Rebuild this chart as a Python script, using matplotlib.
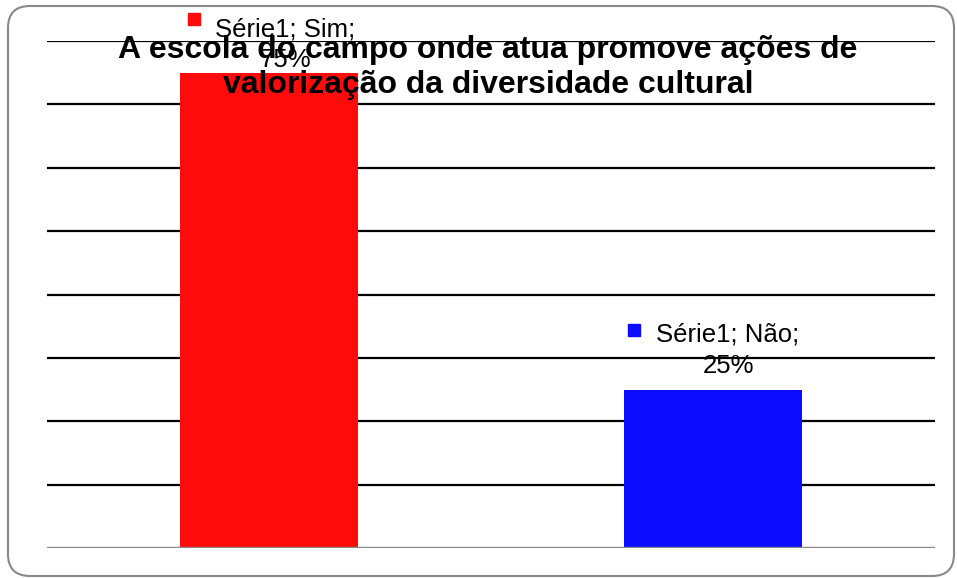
import matplotlib
matplotlib.use("Agg")
import matplotlib.pyplot as plt
from matplotlib.patches import FancyBboxPatch
from matplotlib.transforms import IdentityTransform, offset_copy

plt.rcParams['font.family'] = ['Liberation Sans', 'DejaVu Sans']

title = "A escola do campo onde atua promove ações de\nvalorização da diversidade cultural"
series_name = "Série1"
categories = ["Sim", "Não"]
values = [0.75, 0.25]
colors = ["#ff0b0b", "#0b0bff"]
# pixel offsets of the data labels (text) and their colour keys
text_offsets = [(16, 1), (15, 12)]
key_offsets = [(-75, 54), (-79, 60)]

W, H = 957, 578
fig = plt.figure(figsize=(W / 100, H / 100), dpi=100)
ax = fig.add_axes([47 / W, (H - 548) / H, (935 - 47) / W, (548 - 41) / H])

x = range(len(categories))
ax.bar(x, values, width=0.4, color=colors, zorder=3)

ax.set_xlim(-0.5, len(categories) - 0.5)
ax.set_ylim(0, 0.8)
for y in [0.1 * k for k in range(1, 9)]:
    ax.axhline(y, color="black", lw=1.6, zorder=1)
ax.axhline(0, color="#888888", lw=2.4, zorder=4)

ax.set_xticks([])
ax.set_yticks([])
for s in ax.spines.values():
    s.set_visible(False)
ax.patch.set_alpha(0)

# data labels: colored square + "Série1; cat;\nNN%"
for i, (cat, v, c) in enumerate(zip(categories, values, colors)):
    dx, dy = text_offsets[i]
    txt = f"{series_name}; {cat};\n{v:.0%}"
    ax.annotate(txt, (i, v), xytext=(dx * 0.72, dy * 0.72), textcoords="offset points",
                ha="center", va="bottom", fontsize=18.5, linespacing=1.35, zorder=6)
    kx, ky = key_offsets[i]
    tr = offset_copy(ax.transData, fig=fig, x=kx, y=ky, units="dots")
    ax.plot([i], [v], marker="s", ms=8.5, color=c, mec=c, transform=tr,
            clip_on=False, zorder=6)

fig.text(488 / W, (H - 67.5) / H, title, ha="center", va="center",
         fontsize=23, fontweight="bold", linespacing=1.2, zorder=7)

border = FancyBboxPatch((8, 2), 946, 570, boxstyle="round,pad=0,rounding_size=22",
                        transform=IdentityTransform(), fill=False,
                        edgecolor="#888888", lw=1.5)
fig.add_artist(border)

fig.savefig("out.png", dpi=100)
